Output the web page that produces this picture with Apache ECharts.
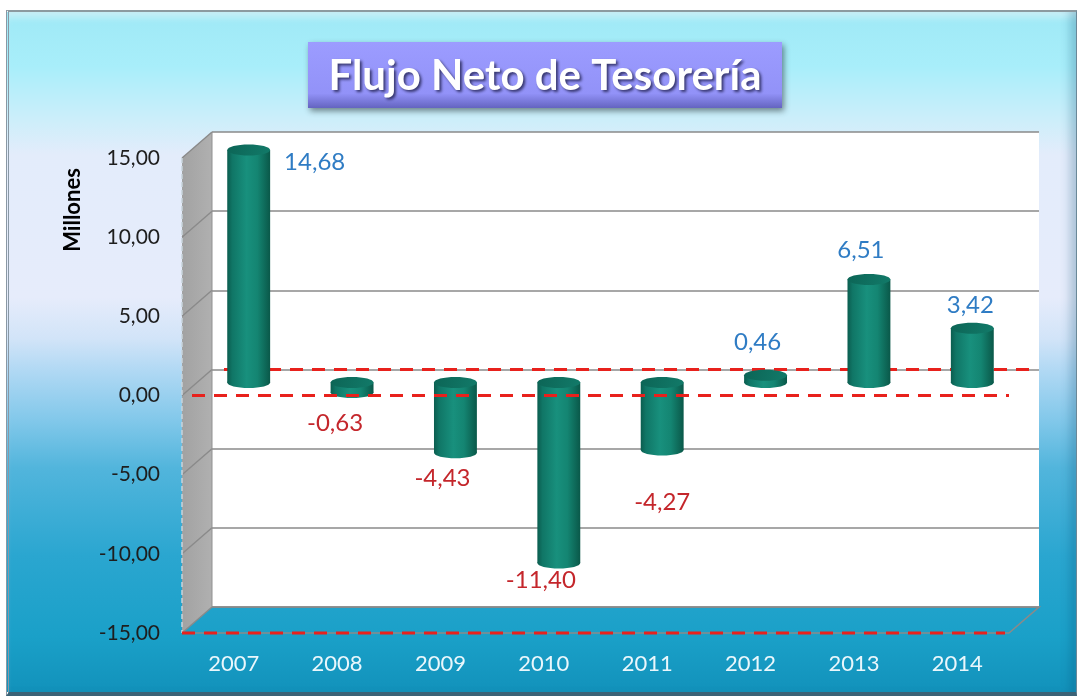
<!DOCTYPE html>
<html><head><meta charset="utf-8">
<script src="https://cdn.jsdelivr.net/npm/echarts@6/dist/echarts.min.js"></script>
<style>
html,body{margin:0;padding:0;background:#fff;}
#frame{position:absolute;left:6px;top:10px;width:1067px;height:680px;
 border-top:2px solid #8c9aa0;border-left:3px double #8a98a4;border-right:1px solid #6a8898;border-bottom:4px solid #3b6276;
 background:linear-gradient(to bottom,#9fe9f6 0%,#a8eefa 8%,#cdeefa 16%,#e3ecfb 21%,#e6ecfb 42%,#d2e4f8 48%,#b2d9f4 52.5%,#82c8ea 60%,#52b5dc 67%,#2aa6d0 80%,#1aa0c8 92%,#1292bb 100%);
 box-shadow:inset -10px 0 10px -4px rgba(0,70,110,0.25), inset 0 10px 8px -6px rgba(255,255,255,0.6);}
#c{position:absolute;left:0;top:0;width:1077px;height:696px;}
</style>
</head><body><div id="frame"></div><div id="c"></div>
<script>
// ---- data ----
const categories = ['2007','2008','2009','2010','2011','2012','2013','2014'];
const values = [14.68, -0.63, -4.43, -11.40, -4.27, 0.46, 6.51, 3.42];
const yMin = -15, yMax = 15, yStep = 5;
const titleText = 'Flujo Neto de Tesorería';
const yAxisTitle = 'Millones';

// ---- style ----
const FONT = 'Lato, "Open Sans", sans-serif';
const DEPTH = [30, -26];
// label nudges (style only): [dx, dy] from default spot
const labelNudge = {'2007':[66,37],'2008':[-17,6],'2009':[-13,1],'2010':[-18,-7],'2011':[0,28],'2012':[-8,-8],'2013':[-8,-5],'2014':[-2,1]};
const fmt = v => v.toFixed(2).replace('.', ',');

const chart = echarts.init(document.getElementById('c'), null, {renderer:'canvas'});

const gridFront = {left:182, right:68, top:158, bottom:63};
const gridMid = {left:182+DEPTH[0]/2, right:68-DEPTH[0]/2, top:158+DEPTH[1]/2, bottom:63-DEPTH[1]/2};
const gridBack = {left:182+DEPTH[0], right:68-DEPTH[0], top:158+DEPTH[1], bottom:63-DEPTH[1], show:true, backgroundColor:'#ffffff', borderWidth:0};

function catAxis(idx, showLabels){
  return {type:'category', gridIndex:idx, data:categories, axisLine:{show:false}, axisTick:{show:false},
    axisLabel:{show:showLabels, color:'#eaf7fc', fontFamily:FONT, fontSize:22, margin:20}};
}
function valAxis(idx, opts){
  return Object.assign({type:'value', gridIndex:idx, min:yMin, max:yMax, interval:yStep,
    axisLine:{show:false}, axisTick:{show:false}, axisLabel:{show:false}, splitLine:{show:false}}, opts||{});
}

const dashRed = {stroke:'#e8211c', lineWidth:3.2, lineDash:[13,9]};

const option = {
  backgroundColor:'transparent',
  animation:false,
  grid:[gridFront, gridMid, gridBack],
  xAxis:[catAxis(0,true), catAxis(1,false), catAxis(2,false)],
  yAxis:[
    valAxis(0,{axisLabel:{show:true, color:'#1e1e1e', fontFamily:FONT, fontSize:21, margin:22, formatter:v=>fmt(v)}}),
    valAxis(1),
    valAxis(2,{splitLine:{show:true, lineStyle:{color:'#8a8a8a', width:1.6}}})
  ],
  graphic:[
    {type:'rect', left:308, top:42, shape:{width:474, height:66},
     style:{fill:{type:'linear',x:0,y:0,x2:0,y2:1,colorStops:[{offset:0,color:'#9c9cff'},{offset:0.78,color:'#9292f8'},{offset:1,color:'#6464c0'}]},
       shadowBlur:6, shadowOffsetX:2, shadowOffsetY:3, shadowColor:'rgba(0,0,0,0.45)'}},
    {type:'text', x:545, y:76, style:{text:titleText, fill:'#ffffff', font:'bold 42px '+FONT, align:'center', verticalAlign:'middle',
       textShadowColor:'rgba(20,20,60,0.75)', textShadowBlur:3, textShadowOffsetX:2, textShadowOffsetY:2}},
    {type:'text', x:73, y:210, rotation:Math.PI/2, style:{text:yAxisTitle, fill:'#000', font:'bold 22px '+FONT, align:'center', verticalAlign:'middle'}}
  ],
  series:[
    // side wall + floor outline + back zero line (behind bars)
    {type:'custom', xAxisIndex:0, yAxisIndex:0, z:1, silent:true, data:[[0,0]],
     renderItem:function(params, api){
       const cs = params.coordSys;
       const x0 = cs.x, w = cs.width;
       const yT = api.coord([0, yMax])[1], yB = api.coord([0, yMin])[1];
       const dx = DEPTH[0], dy = DEPTH[1];
       const ch = [];
       ch.push({type:'polygon', shape:{points:[[x0,yT],[x0+dx,yT+dy],[x0+dx,yB+dy],[x0,yB]]},
         style:{fill:{type:'linear',x:0,y:0,x2:1,y2:0,colorStops:[{offset:0,color:'#a2a2a2'},{offset:1,color:'#b0b0b0'}]}}});
       for(let v=yMin; v<=yMax; v+=yStep){
         const y = api.coord([0,v])[1];
         ch.push({type:'line', shape:{x1:x0,y1:y,x2:x0+dx,y2:y+dy}, style:{stroke:'#8a8a8a', lineWidth:1.4}});
       }
       ch.push({type:'line', shape:{x1:x0,y1:yT,x2:x0,y2:yB}, style:{stroke:'#c8d4dc', lineWidth:1.5, lineDash:[5,3]}});
       ch.push({type:'line', shape:{x1:x0+dx,y1:yT+dy,x2:x0+dx,y2:yB+dy}, style:{stroke:'#909090', lineWidth:1}});
       ch.push({type:'polyline', shape:{points:[[x0,yB],[x0+w,yB],[x0+w+dx,yB+dy],[x0+dx,yB+dy]]}, style:{stroke:'#8a8a8a', lineWidth:1.6, fill:null}});
       const y0 = api.coord([0,0])[1];
       ch.push({type:'line', shape:{x1:x0+dx+12,y1:y0+dy,x2:x0+w+dx-6,y2:y0+dy}, style:dashRed});
       return {type:'group', children:ch};
     }},
    // cylinders
    {type:'custom', xAxisIndex:1, yAxisIndex:1, z:5, silent:true,
     data: values.map((v,i)=>[i,v]),
     renderItem:function(params, api){
       const i = api.value(0), v = api.value(1);
       const pv = api.coord([i, v]), p0 = api.coord([i, 0]);
       const cx = p0[0];
       const bw = api.size([1,0])[0]*0.415;
       const rx = bw/2, ry = 5.5;
       const top = Math.min(pv[1], p0[1]), bot = Math.max(pv[1], p0[1]);
       const bodyFill = {type:'linear',x:0,y:0,x2:1,y2:0,colorStops:[
         {offset:0,color:'#0b5d4f'},{offset:0.12,color:'#107666'},{offset:0.45,color:'#18907d'},{offset:0.7,color:'#148572'},{offset:1,color:'#0a5849'}]};
       const topFill = {type:'linear',x:0,y:0,x2:1,y2:1,colorStops:[{offset:0,color:'#0c6556'},{offset:1,color:'#127a69'}]};
       const cat = categories[i];
       const nd = labelNudge[cat] || [0,0];
       const ly = v >= 0 ? top - ry - 19 : bot + ry + 19;
       return {type:'group', children:[
         {type:'rect', shape:{x:cx-rx, y:top, width:bw, height:bot-top}, style:{fill:bodyFill}},
         {type:'ellipse', shape:{cx:cx, cy:bot, rx:rx, ry:ry}, style:{fill:bodyFill}},
         {type:'ellipse', shape:{cx:cx, cy:top, rx:rx, ry:ry}, style:{fill:topFill}},
         {type:'text', x:cx+nd[0], y:ly+nd[1], style:{text:fmt(v), fill: v>=0 ? '#2f7cc4' : '#c4262b',
           font:'24px '+FONT, align:'center', verticalAlign:'middle'}}
       ]};
     }},
    // front red dashed lines (over bars)
    {type:'custom', xAxisIndex:0, yAxisIndex:0, z:10, silent:true, data:[[0,0]],
     renderItem:function(params, api){
       const cs = params.coordSys;
       const x0 = cs.x, w = cs.width;
       const y0 = api.coord([0,0])[1], yB = api.coord([0,yMin])[1];
       return {type:'group', children:[
         {type:'line', shape:{x1:x0+10,y1:y0,x2:x0+w,y2:y0}, style:dashRed},
         {type:'line', shape:{x1:x0,y1:yB,x2:x0+w-4,y2:yB}, style:dashRed}
       ]};
     }}
  ]
};
chart.setOption(option);
</script>
</body></html>
